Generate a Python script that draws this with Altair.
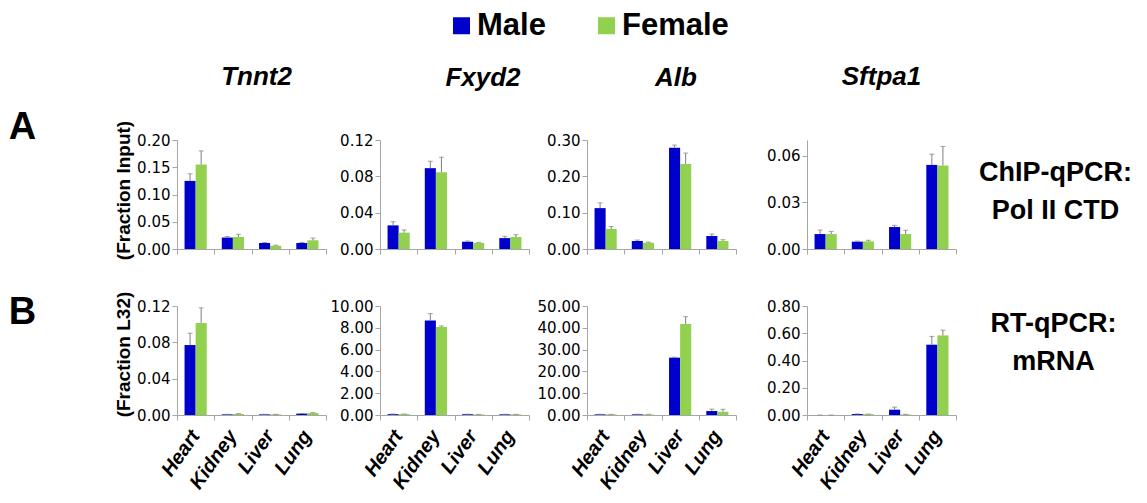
import altair as alt
import pandas as pd

# ---------------- data ----------------
tissues = ["Heart", "Kidney", "Liver", "Lung"]
sexes = ["Male", "Female"]
genes = ["Tnnt2", "Fxyd2", "Alb", "Sftpa1"]

# Row A: ChIP-qPCR, Pol II CTD (Fraction Input)
chip_tnnt2_male = [0.125, 0.021, 0.011, 0.011]
chip_tnnt2_female = [0.155, 0.022, 0.006, 0.016]
chip_tnnt2_male_err = [0.013, 0.002, 0.001, 0.001]
chip_tnnt2_female_err = [0.025, 0.005, 0.001, 0.004]

chip_fxyd2_male = [0.026, 0.089, 0.008, 0.012]
chip_fxyd2_female = [0.018, 0.0845, 0.0066, 0.0132]
chip_fxyd2_male_err = [0.004, 0.0076, 0.0008, 0.0019]
chip_fxyd2_female_err = [0.003, 0.0165, 0.0007, 0.0025]

chip_alb_male = [0.1125, 0.022, 0.279, 0.0357]
chip_alb_female = [0.055, 0.0174, 0.234, 0.022]
chip_alb_male_err = [0.0145, 0.0027, 0.007, 0.0053]
chip_alb_female_err = [0.007, 0.0016, 0.030, 0.0036]

chip_sftpa1_male = [0.0096, 0.0047, 0.0141, 0.054]
chip_sftpa1_female = [0.0096, 0.0049, 0.0096, 0.0536]
chip_sftpa1_male_err = [0.0026, 0.0004, 0.0011, 0.0069]
chip_sftpa1_female_err = [0.0017, 0.0007, 0.0024, 0.0122]

# Row B: RT-qPCR, mRNA (Fraction L32)
rna_tnnt2_male = [0.077, 0.0007, 0.0007, 0.0015]
rna_tnnt2_female = [0.1014, 0.0011, 0.0007, 0.0022]
rna_tnnt2_male_err = [0.013, 0.0001, 0.0001, 0.0002]
rna_tnnt2_female_err = [0.0166, 0.0004, 0.0001, 0.0004]

rna_fxyd2_male = [0.08, 8.66, 0.07, 0.06]
rna_fxyd2_female = [0.08, 8.08, 0.05, 0.05]
rna_fxyd2_male_err = [0.01, 0.64, 0.01, 0.01]
rna_fxyd2_female_err = [0.01, 0.09, 0.01, 0.01]

rna_alb_male = [0.3, 0.3, 26.3, 1.82]
rna_alb_female = [0.25, 0.25, 41.8, 1.5]
rna_alb_male_err = [0.05, 0.05, 0.2, 0.9]
rna_alb_female_err = [0.05, 0.05, 3.3, 1.1]

rna_sftpa1_male = [0.0, 0.007, 0.039, 0.516]
rna_sftpa1_female = [0.0, 0.006, 0.004, 0.584]
rna_sftpa1_male_err = [0.0, 0.001, 0.019, 0.061]
rna_sftpa1_female_err = [0.0, 0.001, 0.001, 0.039]

# axis domains and tick values
chip_ymax = [0.20, 0.12, 0.30, 0.07]
chip_ticks = [[0, 0.05, 0.10, 0.15, 0.20], [0, 0.04, 0.08, 0.12],
              [0, 0.10, 0.20, 0.30], [0, 0.03, 0.06]]
rna_ymax = [0.12, 10.0, 50.0, 0.80]
rna_ticks = [[0, 0.04, 0.08, 0.12], [0, 2, 4, 6, 8, 10],
             [0, 10, 20, 30, 40, 50], [0, 0.2, 0.4, 0.6, 0.8]]

row_a_label = "A"
row_b_label = "B"
row_a_ytitle = "(Fraction Input)"
row_b_ytitle = "(Fraction L32)"
row_a_side = ["ChIP-qPCR:", "Pol II CTD"]
row_b_side = ["RT-qPCR:", "mRNA"]

# ---------------- styling ----------------
BLUE = "#0000CC"
GREEN = "#92D050"
AXIS_GRAY = "#A6A6A6"
ERR_GRAY = "#7F7F7F"
TICK_FONT = "DejaVu Sans"
BOLD_FONT = "Liberation Sans"
W, H = 149, 109

title_dx = [5, 28.5, 14.5, 0]
title_offset = [-3, 21, 21, 29]
min_extent = [0, 53, 57, 70]


def make_df(male, female, male_err, female_err):
    rows = []
    for i, t in enumerate(tissues):
        rows.append({"tissue": t, "sex": "Male", "value": male[i],
                     "upper": male[i] + male_err[i]})
        rows.append({"tissue": t, "sex": "Female", "value": female[i],
                     "upper": female[i] + female_err[i]})
    return pd.DataFrame(rows)


def panel(df, col, row, ymax, ticks):
    # main x axis: line + ticks at category boundaries
    x_kw = dict(title=None, domainColor=AXIS_GRAY, tickColor=AXIS_GRAY,
                tickSize=5, tickBand="extent", grid=False, labels=False,
                orient="bottom")

    y_kw = dict(values=ticks, format=".2f", labelFont=TICK_FONT,
                labelFontSize=15, labelColor="black", labelPadding=2,
                domainColor=AXIS_GRAY, tickColor=AXIS_GRAY, tickSize=5,
                grid=False, labelOverlap=False, orient="left")
    if col == 0:
        y_kw.update(title=row_a_ytitle if row == "A" else row_b_ytitle,
                    titleFont=BOLD_FONT, titleFontSize=19,
                    titleFontWeight="bold", titleColor="black",
                    titleX=-54, titleY=50 if row == "A" else 48,
                    titleBaseline="middle")
    else:
        y_kw.update(title=None, minExtent=min_extent[col])

    yscale = alt.Scale(domain=[0, ymax], nice=False, zero=True)
    xscale = alt.Scale(paddingInner=0, paddingOuter=0)
    x_enc = alt.X("tissue:N", sort=tissues, scale=xscale, axis=alt.Axis(**x_kw))
    x_plain = alt.X("tissue:N", sort=tissues, scale=xscale, axis=None)
    if row == "B":
        # category labels only (no line, no ticks), below the axis line
        x_lab = alt.X("tissue:N", sort=tissues, scale=xscale, axis=alt.Axis(
            orient="bottom", title=None, domain=False, ticks=False,
            tickSize=0, grid=False, labels=True, labelAngle=305,
            labelAlign="right", labelBaseline="middle", labelFont=BOLD_FONT,
            labelFontSize=20, labelFontStyle="italic", labelFontWeight="bold",
            labelColor="black", labelPadding=17, labelOverlap=False))
    else:
        x_lab = x_plain
    xo = alt.XOffset("sex:N", sort=sexes,
                     scale=alt.Scale(paddingInner=0, paddingOuter=0.68))

    base = alt.Chart(df)
    bars = base.mark_bar().encode(
        x=x_enc, xOffset=xo,
        y=alt.Y("value:Q", scale=yscale, axis=alt.Axis(**y_kw)),
        color=alt.Color("sex:N", sort=sexes,
                        scale=alt.Scale(domain=sexes, range=[BLUE, GREEN]),
                        legend=alt.Legend(title=None)),
    )

    # secondary (text-only) axis for row letters and side labels
    second_axis = None
    if col == 0:
        second_axis = alt.Axis(
            orient="left", labels=False, ticks=False, domain=False, grid=False,
            title=row_a_label if row == "A" else row_b_label,
            titleAngle=0, titleX=-155, titleY=-13 if row == "A" else 6,
            titleAlign="center", titleBaseline="middle", titleFont=BOLD_FONT,
            titleFontSize=38, titleFontWeight="bold", titleColor="black")
    elif col == 3:
        second_axis = alt.Axis(
            orient="right", labels=False, ticks=False, domain=False, grid=False,
            title=row_a_side if row == "A" else row_b_side,
            titleAngle=0, titleX=99 if row == "A" else 97,
            titleY=32 if row == "A" else 17,
            titleAlign="center", titleBaseline="middle", titleFont=BOLD_FONT,
            titleFontSize=27, titleFontWeight="bold", titleColor="black",
            titleLineHeight=38)

    err = base.mark_rule(color=ERR_GRAY, strokeWidth=1).encode(
        x=x_lab, xOffset=xo,
        y=alt.Y("value:Q", scale=yscale,
                axis=second_axis if second_axis is not None else None),
        y2="upper:Q",
    )
    caps = base.mark_tick(color=ERR_GRAY, size=5, thickness=1).encode(
        x=x_plain, xOffset=xo,
        y=alt.Y("upper:Q", scale=yscale, axis=None),
    )

    layer = alt.layer(bars, err, caps).resolve_axis(y="independent",
                                                    x="independent")
    props = dict(width=W, height=H)
    if row == "A":
        props["title"] = alt.TitleParams(
            text=genes[col], font=BOLD_FONT, fontSize=26, fontStyle="italic",
            fontWeight="bold", color="black", anchor="middle", frame="group",
            dx=title_dx[col], offset=title_offset[col], baseline="alphabetic")
    return layer.properties(**props)


chip = [
    make_df(chip_tnnt2_male, chip_tnnt2_female, chip_tnnt2_male_err, chip_tnnt2_female_err),
    make_df(chip_fxyd2_male, chip_fxyd2_female, chip_fxyd2_male_err, chip_fxyd2_female_err),
    make_df(chip_alb_male, chip_alb_female, chip_alb_male_err, chip_alb_female_err),
    make_df(chip_sftpa1_male, chip_sftpa1_female, chip_sftpa1_male_err, chip_sftpa1_female_err),
]
rna = [
    make_df(rna_tnnt2_male, rna_tnnt2_female, rna_tnnt2_male_err, rna_tnnt2_female_err),
    make_df(rna_fxyd2_male, rna_fxyd2_female, rna_fxyd2_male_err, rna_fxyd2_female_err),
    make_df(rna_alb_male, rna_alb_female, rna_alb_male_err, rna_alb_female_err),
    make_df(rna_sftpa1_male, rna_sftpa1_female, rna_sftpa1_male_err, rna_sftpa1_female_err),
]

panels = [panel(chip[c], c, "A", chip_ymax[c], chip_ticks[c]) for c in range(4)]
panels += [panel(rna[c], c, "B", rna_ymax[c], rna_ticks[c]) for c in range(4)]

chart = alt.concat(
    *panels, columns=4, spacing={"row": 31, "column": 0}, align="each"
).resolve_scale(
    color="shared"
).properties(
    padding={"left": 0, "top": 2, "right": 5, "bottom": 0}
).configure_view(
    strokeWidth=0
).configure_legend(
    orient="none", legendX=269, legendY=-130, direction="horizontal",
    symbolType="square", symbolSize=289, symbolStrokeWidth=0,
    labelFont=BOLD_FONT, labelFontSize=31, labelFontWeight="bold",
    labelColor="black", labelOffset=0, columnPadding=45, padding=0,
    labelLimit=400,
)

chart.save("out.html", embed_options={"renderer": "svg", "actions": False})
